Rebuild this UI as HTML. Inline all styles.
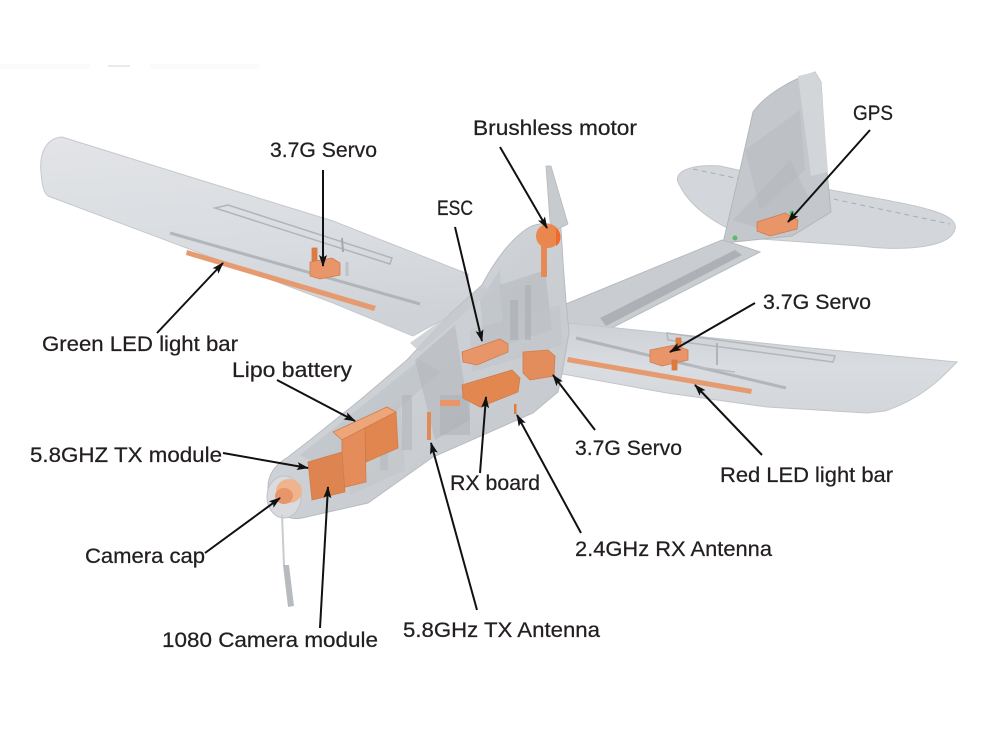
<!DOCTYPE html>
<html>
<head>
<meta charset="utf-8">
<style>
  html,body{margin:0;padding:0;background:#fff;}
  svg{display:block;}
  text{font-family:"Liberation Sans",Arial,sans-serif;font-size:21.5px;fill:#231f20;stroke:#231f20;stroke-width:0.25px;}
</style>
</head>
<body>
<svg width="996" height="747" viewBox="0 0 996 747" xmlns="http://www.w3.org/2000/svg">
  <defs>
    <marker id="ah" markerUnits="userSpaceOnUse" markerWidth="13" markerHeight="10" refX="11" refY="4" orient="auto">
      <path d="M0,0 L12,4 L0,8 L2.5,4 Z" fill="#111"/>
    </marker>
    <linearGradient id="lw" x1="0" y1="0" x2="0.15" y2="1">
      <stop offset="0" stop-color="#e2e4e7"/>
      <stop offset="0.6" stop-color="#d9dce0"/>
      <stop offset="1" stop-color="#cfd3d7"/>
    </linearGradient>
    <linearGradient id="rw" x1="0" y1="0" x2="0" y2="1">
      <stop offset="0" stop-color="#cdd1d5"/>
      <stop offset="0.5" stop-color="#d9dce0"/>
      <stop offset="1" stop-color="#d3d6da"/>
    </linearGradient>
    <linearGradient id="fus" x1="0" y1="0" x2="1" y2="1">
      <stop offset="0" stop-color="#dcdee1"/>
      <stop offset="0.5" stop-color="#ccd0d4"/>
      <stop offset="1" stop-color="#c3c7cb"/>
    </linearGradient>
  </defs>

  <!-- faint top-left remnants -->
  <rect x="0" y="64" width="90" height="5" fill="#fbfbfb"/>
  <rect x="150" y="64" width="110" height="5" fill="#fbfbfb"/>
  <line x1="108" y1="66" x2="130" y2="66" stroke="#dedede" stroke-width="1.2"/>

  <!-- Horizontal stabilizer -->
  <path d="M680,186 C670,172 690,164 720,166 L820,188 C900,203 960,210 955,229 C950,249 900,251 860,246 L760,239 C720,231 690,206 680,186 Z" fill="#d3d7db" stroke="#c2c6ca" stroke-width="1"/>
  <path d="M693,169 L950,224" stroke="#a9adb1" stroke-width="1" stroke-dasharray="5,4" fill="none"/>

  <!-- Vertical fin -->
  <path d="M723,243 L740,170 L753,112 C765,95 790,80 815,72 L821,82 L827,172 L831,212 L792,236 Z" fill="#c4c8cc" stroke="#b3b7bb" stroke-width="1"/>
  <path d="M798,76 L815,72 L821,82 L828,172 L811,176 Z" fill="#d3d6d9"/>
  <path d="M745,150 L800,110 L805,170 L760,210 Z" fill="#b8bcc0" opacity="0.55"/>
  <path d="M733,220 L790,160 L810,200 L770,232 Z" fill="#b4b8bc" opacity="0.5"/>

  <!-- Tail boom -->
  <path d="M566,304 L722,240 L742,246 L760,252 L596,336 L568,336 Z" fill="#c9ccd0" stroke="#b7bbbf" stroke-width="1"/>
  <path d="M600,318 L735,250 L742,255 L606,326 Z" fill="#a6aaae" opacity="0.8"/>

  <!-- Left wing -->
  <path d="M62,137 C47,138 39,152 41,172 C42,186 44,193 48,196 L200,253 L333,303 L413,336 L470,305 L468,274 L333,221 L200,180 Z" fill="url(#lw)" stroke="#c5c8cc" stroke-width="1"/>
  <path d="M170,233 L420,304" stroke="#a9adb1" stroke-width="3" fill="none" opacity="0.8"/>
  <path d="M215,208 L228,205 L392,258 L390,264 Z" fill="none" stroke="#b1b5b9" stroke-width="1.5"/>
  <line x1="342" y1="238" x2="343" y2="252" stroke="#a5a9ad" stroke-width="2"/>
  <line x1="347" y1="262" x2="347" y2="276" stroke="#c0c3c6" stroke-width="3"/>

  <!-- Right wing -->
  <path d="M569,323 L800,347 L957,362 C947,372 925,398 885,411 L867,413 L767,407 L667,393 L557,373 Z" fill="url(#rw)" stroke="#c2c6ca" stroke-width="1"/>
  <path d="M576,338 L786,388" stroke="#a9adb1" stroke-width="3" fill="none" opacity="0.8"/>
  <path d="M667,333 L835,356 L833,362 L668,340 Z" fill="none" stroke="#b3b7bb" stroke-width="1.5"/>
  <line x1="717" y1="343" x2="717" y2="365" stroke="#b0b4b8" stroke-width="2"/>
  <line x1="690" y1="366" x2="735" y2="372" stroke="#b9bcc0" stroke-width="1.5"/>

  <!-- Fuselage -->
  <path d="M268,487 C268,474 276,464 288,457 L310,440 L360,400 L407,360 L450,314 L482,285 C492,266 506,244 525,230 C536,222 552,221 561,229 L563,262 L566,302 L569,332 L562,374 L558,392 L533,413 L433,457 L368,503 L302,518 C284,522 268,506 268,487 Z" fill="url(#fus)" stroke="#b8bcc0" stroke-width="1"/>
  <!-- internal structure -->
  <path d="M300,455 L420,360 L440,372 L330,470 Z" fill="#b9bdc1" opacity="0.45"/>
  <path d="M415,360 L455,325 L470,420 L435,440 Z" fill="#b0b4b8" opacity="0.5"/>
  <path d="M500,285 L545,270 L552,330 L505,345 Z" fill="#b4b8bc" opacity="0.55"/>
  <path d="M470,330 L560,305 L562,345 L472,372 Z" fill="#bfc3c7" opacity="0.5"/>
  <path d="M480,300 L500,270 L505,345 L485,352 Z" fill="#b8bcc0" opacity="0.45"/>
  <path d="M340,440 L400,400 L405,470 L350,495 Z" fill="#bcc0c4" opacity="0.35"/>
  <rect x="402" y="395" width="10" height="55" fill="#aeb2b6" opacity="0.5"/>
  <rect x="440" y="395" width="30" height="40" fill="#a9adb1" opacity="0.45"/>
  <rect x="510" y="300" width="8" height="40" fill="#a5a9ad" opacity="0.5"/>
  <rect x="525" y="285" width="6" height="55" fill="#a5a9ad" opacity="0.5"/>
  <rect x="380" y="420" width="8" height="50" fill="#aeb2b6" opacity="0.4"/>
  <path d="M410,343 L450,314 L482,286 L492,290 L420,352 Z" fill="#c6c9cd" opacity="0.8"/>
  <!-- nose cap -->
  <ellipse cx="284" cy="497" rx="17" ry="21" fill="#d9dbde" stroke="#bfc2c6" stroke-width="1"/>

  <!-- camera mount stick -->
  <line x1="282" y1="515" x2="284" y2="565" stroke="#c9cbce" stroke-width="2"/>
  <path d="M283,565 L289,565 L294,606 L288,607 Z" fill="#b8bbbe"/>

  <!-- Orange components -->
  <g fill="#e8956a" stroke="#d07c4c" stroke-width="0.8">
    <rect x="312" y="248" width="5" height="14" fill="#e27a3e"/>
    <path d="M310,262 L332,258 L340,263 L340,275 L320,279 L310,276 Z"/>
    <path d="M187,250 L376,306 L374,311 L186,255 Z" fill="#e59b6f" stroke="none"/>
    <rect x="676" y="338" width="5" height="14" fill="#e27a3e"/>
    <path d="M650,350 L675,345 L688,350 L688,360 L662,366 L650,362 Z"/>
    <rect x="672" y="360" width="5" height="10" fill="#e27a3e"/>
    <path d="M568,357 L752,389 L751,394 L567,362 Z" fill="#e59b6f" stroke="none"/>
    <path d="M757,222 L785,213 L798,220 L797,229 L770,236 L757,231 Z"/>
    <path d="M462,352 L500,339 L508,344 L508,352 L477,365 L463,362 Z"/>
    <path d="M462,385 L512,370 L520,378 L518,392 L480,407 L463,398 Z" fill="#e2874f"/>
    <rect x="440" y="400" width="20" height="6" fill="#e8956a" stroke="none"/>
    <path d="M523,352 L548,350 L555,356 L554,376 L530,380 L523,373 Z" fill="#e48d5c"/>
    <rect x="514" y="404" width="2.5" height="10" fill="#e27a3e" stroke="none"/>
    <rect x="427" y="412" width="4" height="28" fill="#e28a55" stroke="none"/>
    <path d="M333,432 L387,407 L396,412 L365,428 L342,440 Z" fill="#eda57a"/>
    <path d="M365,428 L396,412 L398,448 L366,462 Z" fill="#e2864f"/>
    <path d="M342,440 L365,428 L366,482 L342,488 Z" fill="#e48d5a"/>
    <path d="M308,462 L342,452 L345,492 L312,500 Z" fill="#dd8450"/>
    <ellipse cx="289" cy="491" rx="13" ry="12" fill="#efb38e" stroke="none"/>
    <ellipse cx="284" cy="496" rx="9" ry="8" fill="#e8956a" stroke="none"/>
    <rect x="541" y="243" width="6" height="34" fill="#e58955" stroke="none"/>
  </g>

  <!-- propeller blade -->
  <path d="M546,166 L551,166 L568,224 L556,230 L550,222 Z" fill="#c8cbce" stroke="#b6b9bc" stroke-width="0.8"/>
  <!-- spinner -->
  <circle cx="548" cy="236" r="12" fill="#e9874f"/>
  <path d="M556,228 C562,232 562,242 556,246 Z" fill="#f06a2a"/>

  <!-- green dots -->
  <circle cx="792" cy="213" r="2.5" fill="#5db870"/>
  <circle cx="735" cy="238" r="2.5" fill="#5db870"/>

  <!-- Leader lines with arrows -->
  <g stroke="#111" stroke-width="2" fill="none" marker-end="url(#ah)">
    <line x1="323" y1="170" x2="323" y2="266"/>
    <line x1="157" y1="333" x2="223" y2="263"/>
    <line x1="277" y1="380" x2="355" y2="421"/>
    <line x1="455" y1="227" x2="482" y2="341"/>
    <line x1="500" y1="147" x2="547" y2="228"/>
    <line x1="870" y1="130" x2="788" y2="222"/>
    <line x1="755" y1="303" x2="670" y2="352"/>
    <line x1="595" y1="430" x2="553" y2="375"/>
    <line x1="762" y1="455" x2="695" y2="385"/>
    <line x1="480" y1="473" x2="486" y2="397"/>
    <line x1="581" y1="533" x2="517" y2="415"/>
    <line x1="477" y1="610" x2="431" y2="443"/>
    <line x1="223" y1="453" x2="308" y2="468"/>
    <line x1="205" y1="553" x2="280" y2="498"/>
    <line x1="320" y1="628" x2="328" y2="487"/>
  </g>

  <!-- Labels -->
  <text x="270" y="157" textLength="107" lengthAdjust="spacingAndGlyphs">3.7G Servo</text>
  <text x="473" y="135" textLength="164" lengthAdjust="spacingAndGlyphs">Brushless motor</text>
  <text x="437" y="215" textLength="36" lengthAdjust="spacingAndGlyphs">ESC</text>
  <text x="853" y="120" textLength="40" lengthAdjust="spacingAndGlyphs">GPS</text>
  <text x="763" y="309" textLength="108" lengthAdjust="spacingAndGlyphs">3.7G Servo</text>
  <text x="42" y="351" textLength="196" lengthAdjust="spacingAndGlyphs">Green LED light bar</text>
  <text x="232" y="377" textLength="120" lengthAdjust="spacingAndGlyphs">Lipo battery</text>
  <text x="30" y="462" textLength="192" lengthAdjust="spacingAndGlyphs">5.8GHZ TX module</text>
  <text x="85" y="563" textLength="120" lengthAdjust="spacingAndGlyphs">Camera cap</text>
  <text x="162" y="647" textLength="216" lengthAdjust="spacingAndGlyphs">1080 Camera module</text>
  <text x="450" y="490" textLength="90" lengthAdjust="spacingAndGlyphs">RX board</text>
  <text x="403" y="637" textLength="197" lengthAdjust="spacingAndGlyphs">5.8GHz TX Antenna</text>
  <text x="575" y="455" textLength="107" lengthAdjust="spacingAndGlyphs">3.7G Servo</text>
  <text x="720" y="482" textLength="173" lengthAdjust="spacingAndGlyphs">Red LED light bar</text>
  <text x="575" y="556" textLength="197" lengthAdjust="spacingAndGlyphs">2.4GHz RX Antenna</text>
</svg>
</body>
</html>
